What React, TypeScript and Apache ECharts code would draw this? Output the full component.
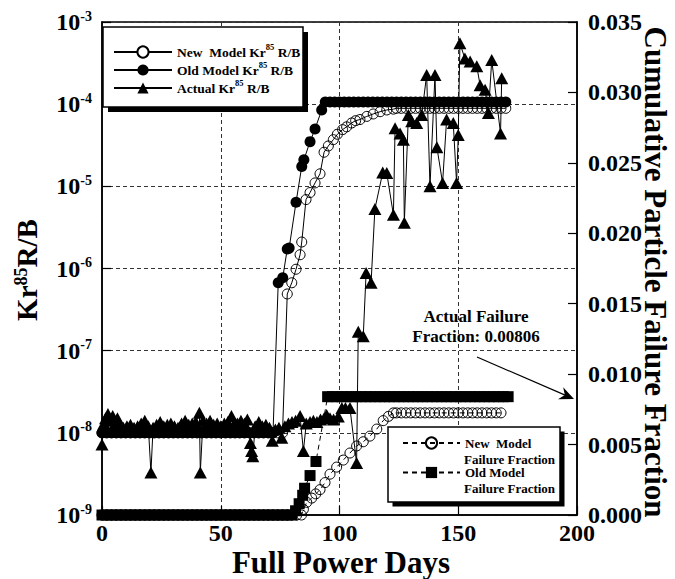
import React, { useEffect, useRef } from "react";
import * as echarts from "echarts";

// ---------- data ----------
// Kr-85 R/B, new model (open circles): [full power days, R/B]
const newModelKr: [number, number][] = [
  [0, 1e-8], [2, 1e-8], [4, 1e-8], [6, 1e-8], [8, 1e-8], [10, 1e-8], [12, 1e-8], [14, 1e-8],
  [16, 1e-8], [18, 1e-8], [20, 1e-8], [22, 1e-8], [24, 1e-8], [26, 1e-8], [28, 1e-8], [30, 1e-8],
  [32, 1e-8], [34, 1e-8], [36, 1e-8], [38, 1e-8], [40, 1e-8], [42, 1e-8], [44, 1e-8], [46, 1e-8],
  [48, 1e-8], [50, 1e-8], [52, 1e-8], [54, 1e-8], [56, 1e-8], [58, 1e-8], [60, 1e-8], [62, 1e-8],
  [64, 1e-8], [66, 1e-8], [68, 1e-8], [70, 1e-8], [72, 1e-8], [74, 1e-8], [76, 1e-8],
  [78, 4.9e-7], [79.9, 6.7e-7], [81.7, 9.8e-7], [83.4, 1.47e-6], [84.1, 2.1e-6], [85.9, 6.9e-6],
  [87.6, 8.4e-6], [89.7, 1.1e-5], [91.8, 1.42e-5], [93.5, 2.6e-5], [95.3, 3.1e-5], [97.4, 3.7e-5],
  [99.1, 4.3e-5], [101.3, 4.9e-5], [103, 5.3e-5], [105.1, 5.9e-5], [106.8, 6.3e-5], [108.6, 6.5e-5],
  [111.5, 7.1e-5], [114.2, 7.6e-5], [117.1, 8.1e-5], [119.9, 8.5e-5], [122.7, 8.7e-5],
  [124, 8.9e-5], [126, 8.9e-5], [128, 8.9e-5], [130, 8.9e-5], [132, 8.9e-5], [134, 8.9e-5],
  [136, 8.9e-5], [138, 8.9e-5], [140, 8.9e-5], [142, 8.9e-5], [144, 8.9e-5], [146, 8.9e-5],
  [148, 8.9e-5], [150, 8.9e-5], [152, 8.9e-5], [154, 8.9e-5], [156, 8.9e-5], [158, 8.9e-5],
  [160, 8.9e-5], [162, 8.9e-5], [164, 8.9e-5], [166, 8.9e-5], [168, 8.9e-5], [170, 8.9e-5],
];

// Kr-85 R/B, old model (filled circles)
const oldModelKr: [number, number][] = [
  [0, 1e-8], [2, 1e-8], [4, 1e-8], [6, 1e-8], [8, 1e-8], [10, 1e-8], [12, 1e-8], [14, 1e-8],
  [16, 1e-8], [18, 1e-8], [20, 1e-8], [22, 1e-8], [24, 1e-8], [26, 1e-8], [28, 1e-8], [30, 1e-8],
  [32, 1e-8], [34, 1e-8], [36, 1e-8], [38, 1e-8], [40, 1e-8], [42, 1e-8], [44, 1e-8], [46, 1e-8],
  [48, 1e-8], [50, 1e-8], [52, 1e-8], [54, 1e-8], [56, 1e-8], [58, 1e-8], [60, 1e-8], [62, 1e-8],
  [64, 1e-8], [66, 1e-8], [68, 1e-8], [70, 1e-8], [72, 1e-8],
  [74.2, 6.7e-7], [76.1, 7.7e-7], [78, 1.73e-6], [78.8, 1.77e-6], [81.7, 6.4e-6], [84.1, 1.74e-5],
  [85, 2.1e-5], [87.6, 3.5e-5], [89.7, 5.0e-5], [92.5, 8.5e-5],
  [94, 1.06e-4], [96, 1.06e-4], [98, 1.06e-4], [100, 1.06e-4], [102, 1.06e-4], [104, 1.06e-4],
  [106, 1.06e-4], [108, 1.06e-4], [110, 1.06e-4], [112, 1.06e-4], [114, 1.06e-4], [116, 1.06e-4],
  [118, 1.06e-4], [120, 1.06e-4], [122, 1.06e-4], [124, 1.06e-4], [126, 1.06e-4], [128, 1.06e-4],
  [130, 1.06e-4], [132, 1.06e-4], [134, 1.06e-4], [136, 1.06e-4], [138, 1.06e-4], [140, 1.06e-4],
  [142, 1.06e-4], [144, 1.06e-4], [146, 1.06e-4], [148, 1.06e-4], [150, 1.06e-4], [152, 1.06e-4],
  [154, 1.06e-4], [156, 1.06e-4], [158, 1.06e-4], [160, 1.06e-4], [162, 1.06e-4], [164, 1.06e-4],
  [166, 1.06e-4], [168, 1.06e-4], [170, 1.06e-4],
];

// Kr-85 R/B, measured (triangles)
const actualKr: [number, number][] = [
  [0, 7.2e-9], [0.8, 1.3e-8], [1.5, 1.5e-8], [2.5, 1.7e-8], [3.5, 1.4e-8], [4.5, 1.6e-8],
  [5.5, 1.3e-8], [6.5, 1.5e-8], [7.5, 1.2e-8], [9, 1.15e-8], [10.5, 1.2e-8], [12, 1.25e-8],
  [13.5, 1.15e-8], [15, 1.2e-8], [16.5, 1.3e-8], [18, 1.4e-8], [19.5, 1.2e-8], [20.6, 3.3e-9],
  [21.5, 1.15e-8], [23, 1.25e-8], [24.5, 1.35e-8], [26, 1.2e-8], [27.5, 1.25e-8], [29, 1.3e-8],
  [30.5, 1.2e-8], [32, 1.15e-8], [33.5, 1.3e-8], [35, 1.4e-8], [36.5, 1.25e-8], [38, 1.3e-8],
  [39.5, 1.35e-8], [41, 1.75e-8], [41.4, 3.3e-9], [42.5, 1.4e-8], [44, 1.3e-8], [45.5, 1.4e-8],
  [47, 1.25e-8], [48.5, 1.3e-8], [50, 1.2e-8], [51.5, 1.3e-8], [53, 1.35e-8], [54.5, 1.6e-8],
  [55.5, 1.25e-8], [57, 1.3e-8], [58.5, 1.4e-8], [60, 1.3e-8], [61.2, 1.45e-8], [62.5, 7.5e-9],
  [63, 6e-9], [63.5, 5.2e-9], [64.5, 1.2e-8], [66, 1.35e-8], [67.5, 1.2e-8], [69, 1.25e-8],
  [70.5, 1.15e-8], [71.7, 8e-9], [73, 1.1e-8], [74.5, 1.15e-8], [75.7, 8.7e-9], [77, 1.2e-8],
  [78.5, 1.3e-8], [80, 1.35e-8], [81.5, 1.4e-8], [83.4, 1.6e-8], [84.8, 6e-9], [86, 1.3e-8],
  [87.6, 1.35e-8], [89, 1.4e-8], [90.5, 1.35e-8], [92, 1.45e-8], [93.5, 1.5e-8], [94.6, 1.65e-8],
  [96, 1.5e-8], [97.5, 1.45e-8], [99.5, 1.58e-8], [101, 2.0e-8], [102.5, 2.0e-8], [104.4, 2.0e-8],
  [107.2, 4.3e-9], [107.9, 1.7e-7], [110, 1.5e-7], [111.2, 8.8e-7], [113.3, 6.7e-7], [114.9, 5.3e-6],
  [118.2, 1.47e-5], [119.9, 1.45e-5], [122.7, 4.5e-6], [123.4, 5.1e-5], [125.5, 4.4e-5],
  [126.9, 3.7e-5], [127.3, 3.6e-6], [129, 7.4e-5], [130.4, 6.2e-5], [132.5, 5.9e-5], [134.6, 7.4e-5],
  [136.7, 2.27e-4], [138.1, 1.0e-5], [140.2, 2.27e-4], [141, 3.0e-5], [143.4, 1.1e-5],
  [145.1, 6.5e-5], [147.9, 5.9e-5], [149.3, 1.1e-5], [150, 4.2e-5], [150.7, 5.5e-4], [152.8, 3.6e-4],
  [155, 3.3e-4], [157.8, 2.9e-4], [159.2, 1.7e-4], [161.3, 1.5e-4], [162.7, 7.8e-5], [164.1, 3.45e-4],
  [167.8, 4.4e-5], [168.3, 2.07e-4],
];

// Cumulative particle failure fraction, new model (open circles, dashed)
const newModelFailure: [number, number][] = [
  [0, 0], [2, 0], [4, 0], [6, 0], [8, 0], [10, 0], [12, 0], [14, 0], [16, 0], [18, 0], [20, 0],
  [22, 0], [24, 0], [26, 0], [28, 0], [30, 0], [32, 0], [34, 0], [36, 0], [38, 0], [40, 0], [42, 0],
  [44, 0], [46, 0], [48, 0], [50, 0], [52, 0], [54, 0], [56, 0], [58, 0], [60, 0], [62, 0], [64, 0],
  [66, 0], [68, 0], [70, 0], [72, 0], [74, 0], [76, 0], [78, 0], [80, 0], [82, 0], [84, 0],
  [84.8, 0.0004], [86.2, 0.0009], [88.3, 0.0012], [90, 0.0015], [91.8, 0.0018], [93.9, 0.0023],
  [96, 0.0029], [98.8, 0.0034], [101.6, 0.0039], [104.4, 0.0044], [107.2, 0.0049], [110, 0.0052],
  [112.8, 0.0056], [115.7, 0.0061], [118.4, 0.0067], [120.6, 0.007], [122.7, 0.00725],
  [124, 0.00725], [126, 0.00725], [128, 0.00725], [130, 0.00725], [132, 0.00725], [134, 0.00725],
  [136, 0.00725], [138, 0.00725], [140, 0.00725], [142, 0.00725], [144, 0.00725], [146, 0.00725],
  [148, 0.00725], [150, 0.00725], [152, 0.00725], [154, 0.00725], [156, 0.00725], [158, 0.00725],
  [160, 0.00725], [162, 0.00725], [164, 0.00725], [166, 0.00725], [168, 0.00725],
];

// Cumulative particle failure fraction, old model (filled squares, dashed)
const oldModelFailure: [number, number][] = [
  [0, 0], [2, 0], [4, 0], [6, 0], [8, 0], [10, 0], [12, 0], [14, 0], [16, 0], [18, 0], [20, 0],
  [22, 0], [24, 0], [26, 0], [28, 0], [30, 0], [32, 0], [34, 0], [36, 0], [38, 0], [40, 0], [42, 0],
  [44, 0], [46, 0], [48, 0], [50, 0], [52, 0], [54, 0], [56, 0], [58, 0], [60, 0], [62, 0], [64, 0],
  [66, 0], [68, 0], [70, 0], [72, 0], [74, 0], [76, 0], [78, 0], [80, 0],
  [81.5, 0.0003], [83, 0.0008], [84.5, 0.0014], [85.3, 0.0019], [87.6, 0.0028], [90.1, 0.0038],
  [95, 0.0084], [97, 0.0084], [99, 0.0084], [101, 0.0084], [103, 0.0084], [105, 0.0084],
  [107, 0.0084], [109, 0.0084], [111, 0.0084], [113, 0.0084], [115, 0.0084], [117, 0.0084],
  [119, 0.0084], [121, 0.0084], [123, 0.0084], [125, 0.0084], [127, 0.0084], [129, 0.0084],
  [131, 0.0084], [133, 0.0084], [135, 0.0084], [137, 0.0084], [139, 0.0084], [141, 0.0084],
  [143, 0.0084], [145, 0.0084], [147, 0.0084], [149, 0.0084], [151, 0.0084], [153, 0.0084],
  [155, 0.0084], [157, 0.0084], [159, 0.0084], [161, 0.0084], [163, 0.0084], [165, 0.0084],
  [167, 0.0084], [169, 0.0084], [171, 0.0084],
];

const actualFailureNote = "Actual Failure\nFraction: 0.00806";

// ---------- styling ----------
const SERIF = "'Liberation Serif', 'Times New Roman', serif";
const NAME_NEW_KR = "New Model Kr85 R/B";
const NAME_OLD_KR = "Old Model Kr85 R/B";
const NAME_ACT_KR = "Actual Kr85 R/B";
const NAME_NEW_FF = "New Model Failure Fraction";
const NAME_OLD_FF = "Old Model Failure Fraction";

const legendLabels: Record<string, string> = {
  [NAME_NEW_KR]: "{t|New  Model Kr}{s|85}{t| R/B}",
  [NAME_OLD_KR]: "{t|Old Model Kr}{s|85}{t| R/B}",
  [NAME_ACT_KR]: "{t|Actual Kr}{s|85}{t| R/B}",
  [NAME_NEW_FF]: "New  Model",
  [NAME_OLD_FF]: "Old Model",
};

const legendRich1 = {
  t: { fontFamily: SERIF, fontWeight: "bold", fontSize: 13.5, color: "#000", lineHeight: 20 },
  s: { fontFamily: SERIF, fontWeight: "bold", fontSize: 8.5, color: "#000", lineHeight: 19, verticalAlign: "top" },
};
const legendText2 = { fontFamily: SERIF, fontWeight: "bold", fontSize: 13, color: "#000", lineHeight: 14 };

function arrowHead(tip: [number, number], from: [number, number]) {
  const dx = tip[0] - from[0];
  const dy = tip[1] - from[1];
  const len = Math.hypot(dx, dy);
  const ux = -dx / len;
  const uy = -dy / len;
  const rot = (a: number, L: number): [number, number] => {
    const c = Math.cos(a);
    const s = Math.sin(a);
    return [tip[0] + L * (ux * c - uy * s), tip[1] + L * (ux * s + uy * c)];
  };
  return [tip, rot(0.42, 16), [tip[0] + 10 * ux, tip[1] + 10 * uy], rot(-0.42, 16)];
}

export default function App() {
  const ref = useRef<HTMLDivElement>(null);

  useEffect(() => {
    if (!ref.current) return;
    const chart = echarts.init(ref.current, null, { renderer: "svg" });

    const axisLine = { show: true, lineStyle: { color: "#000", width: 1.5 } };
    const axisTick = { show: true, inside: true, length: 9, lineStyle: { color: "#000", width: 1.2 } };
    const tickLabel = { color: "#000", fontFamily: SERIF, fontWeight: "bold" as const, fontSize: 24 };
    const gridDash = { show: true, lineStyle: { color: "#333", width: 1, type: [4, 3] as number[] } };

    const arrowFrom: [number, number] = [477, 357];
    const arrowTip: [number, number] = [574, 399];

    const ffText = (y: number) => ({
      type: "text",
      z: 10,
      x: 464,
      y,
      style: {
        text: "Failure Fraction",
        fontFamily: SERIF,
        fontWeight: "bold",
        fontSize: 13,
        fill: "#000",
        align: "left",
        verticalAlign: "middle",
      },
    });

    chart.setOption({
      animation: false,
      backgroundColor: "#fff",
      grid: {
        left: 102,
        right: 98,
        top: 22,
        bottom: 64,
        show: true,
        borderColor: "#000",
        borderWidth: 1.5,
        backgroundColor: "transparent",
        outerBoundsMode: "none",
      },
      xAxis: {
        type: "value",
        min: 0,
        max: 200,
        interval: 50,
        axisLine,
        axisTick,
        axisLabel: { ...tickLabel, margin: 6 },
        splitLine: gridDash,
      },
      yAxis: [
        {
          type: "log",
          logBase: 10,
          min: 1e-9,
          max: 1e-3,
          splitNumber: 6,
          axisLine,
          axisTick,
          minorTick: { show: false },
          splitLine: gridDash,
          axisLabel: {
            margin: 10,
            formatter: (v: number) => `{b|10}{s|${Math.round(Math.log10(v))}}`,
            rich: {
              b: { ...tickLabel, lineHeight: 26 },
              s: { ...tickLabel, fontSize: 14, lineHeight: 16, verticalAlign: "top" },
            },
          },
        },
        {
          type: "value",
          position: "right",
          min: 0,
          max: 0.035,
          interval: 0.005,
          axisLine,
          axisTick,
          splitLine: { show: false },
          axisLabel: { ...tickLabel, margin: 11, formatter: (v: number) => v.toFixed(3) },
        },
      ],
      legend: [
        {
          id: "kr",
          data: [
            { name: NAME_NEW_KR, itemStyle: { color: "#fff" } },
            { name: NAME_OLD_KR },
            { name: NAME_ACT_KR },
          ],
          orient: "vertical",
          left: 113,
          top: 42,
          padding: 0,
          itemGap: 1,
          itemWidth: 58,
          itemHeight: 14,
          selectedMode: false,
          z: 10,
          formatter: (n: string) => legendLabels[n],
          textStyle: { rich: legendRich1 },
        },
        {
          id: "ffNew",
          data: [{ name: NAME_NEW_FF }],
          orient: "vertical",
          left: 402,
          top: 436,
          padding: 0,
          itemWidth: 57,
          itemHeight: 14,
          selectedMode: false,
          z: 10,
          formatter: (n: string) => legendLabels[n],
          textStyle: legendText2,
        },
        {
          id: "ffOld",
          data: [{ name: NAME_OLD_FF }],
          orient: "vertical",
          left: 402,
          top: 465.5,
          padding: 0,
          itemWidth: 57,
          itemHeight: 14,
          selectedMode: false,
          z: 10,
          formatter: (n: string) => legendLabels[n],
          textStyle: legendText2,
        },
      ],
      graphic: [
        // legend boxes with drop shadows
        { type: "rect", z: 5, shape: { x: 108, y: 32, width: 200, height: 80 }, style: { fill: "#000" } },
        { type: "rect", z: 6, shape: { x: 103, y: 27, width: 200, height: 80 }, style: { fill: "#fff", stroke: "#000", lineWidth: 1.5 } },
        { type: "rect", z: 5, shape: { x: 392.5, y: 431.5, width: 172, height: 75 }, style: { fill: "#000" } },
        { type: "rect", z: 6, shape: { x: 388, y: 427, width: 172, height: 75 }, style: { fill: "#fff", stroke: "#000", lineWidth: 1.5 } },
        ffText(459),
        ffText(488),
        // annotation
        {
          type: "text",
          z: 10,
          x: 476,
          y: 326,
          style: {
            text: actualFailureNote,
            fontFamily: SERIF,
            fontWeight: "bold",
            fontSize: 17,
            lineHeight: 20,
            fill: "#000",
            align: "center",
            verticalAlign: "middle",
          },
        },
        {
          type: "line",
          z: 10,
          shape: { x1: arrowFrom[0], y1: arrowFrom[1], x2: arrowTip[0] - 6, y2: arrowTip[1] - 2.6 },
          style: { stroke: "#000", lineWidth: 1.2 },
        },
        {
          type: "polygon",
          z: 10,
          shape: { points: arrowHead(arrowTip, arrowFrom) },
          style: { fill: "#000" },
        },
        // axis titles
        {
          type: "text",
          z: 10,
          x: 341,
          y: 562,
          style: {
            text: "Full Power Days",
            fontFamily: SERIF,
            fontWeight: "bold",
            fontSize: 31,
            fill: "#000",
            align: "center",
            verticalAlign: "middle",
          },
        },
        {
          type: "text",
          z: 10,
          x: 27,
          y: 270,
          rotation: Math.PI / 2,
          style: {
            text: "{k|Kr}{s|85}{k|R/B}",
            align: "center",
            verticalAlign: "middle",
            rich: {
              k: { fontFamily: SERIF, fontWeight: "bold", fontSize: 29, fill: "#000", lineHeight: 30 },
              s: { fontFamily: SERIF, fontWeight: "bold", fontSize: 18, fill: "#000", lineHeight: 20, verticalAlign: "top" },
            },
          },
        },
        {
          type: "text",
          z: 10,
          x: 655,
          y: 272,
          rotation: -Math.PI / 2,
          style: {
            text: "Cumulative Particle Failure Fraction",
            fontFamily: SERIF,
            fontWeight: "bold",
            fontSize: 31,
            fill: "#000",
            align: "center",
            verticalAlign: "middle",
          },
        },
      ],
      series: [
        {
          name: NAME_NEW_KR,
          type: "line",
          yAxisIndex: 0,
          data: newModelKr,
          symbol: "circle",
          symbolSize: 10,
          itemStyle: { color: "rgba(255,255,255,0)", borderColor: "#000", borderWidth: 1 },
          lineStyle: { color: "#000", width: 1 },
          emphasis: { disabled: true },
          z: 2,
        },
        {
          name: NAME_OLD_KR,
          type: "line",
          yAxisIndex: 0,
          data: oldModelKr,
          symbol: "circle",
          symbolSize: 11,
          itemStyle: { color: "#000" },
          lineStyle: { color: "#000", width: 1 },
          emphasis: { disabled: true },
          z: 3,
        },
        {
          name: NAME_ACT_KR,
          type: "line",
          yAxisIndex: 0,
          data: actualKr,
          symbol: "triangle",
          symbolSize: [13, 12],
          itemStyle: { color: "#000" },
          lineStyle: { color: "#000", width: 1 },
          emphasis: { disabled: true },
          z: 4,
        },
        {
          name: NAME_NEW_FF,
          type: "line",
          yAxisIndex: 1,
          data: newModelFailure,
          symbol: "circle",
          symbolSize: 10,
          itemStyle: { color: "rgba(255,255,255,0)", borderColor: "#000", borderWidth: 1 },
          lineStyle: { color: "#000", width: 1, type: [5, 4] },
          emphasis: { disabled: true },
          z: 4,
        },
        {
          name: NAME_OLD_FF,
          type: "line",
          yAxisIndex: 1,
          data: oldModelFailure,
          symbol: "rect",
          symbolSize: 11,
          itemStyle: { color: "#000" },
          lineStyle: { color: "#000", width: 1, type: [5, 4] },
          emphasis: { disabled: true },
          z: 4,
        },
      ],
    });

    return () => chart.dispose();
  }, []);

  return (
    <div
      ref={ref}
      style={{ position: "fixed", left: 0, top: 0, width: 675, height: 579, background: "#fff" }}
    />
  );
}
